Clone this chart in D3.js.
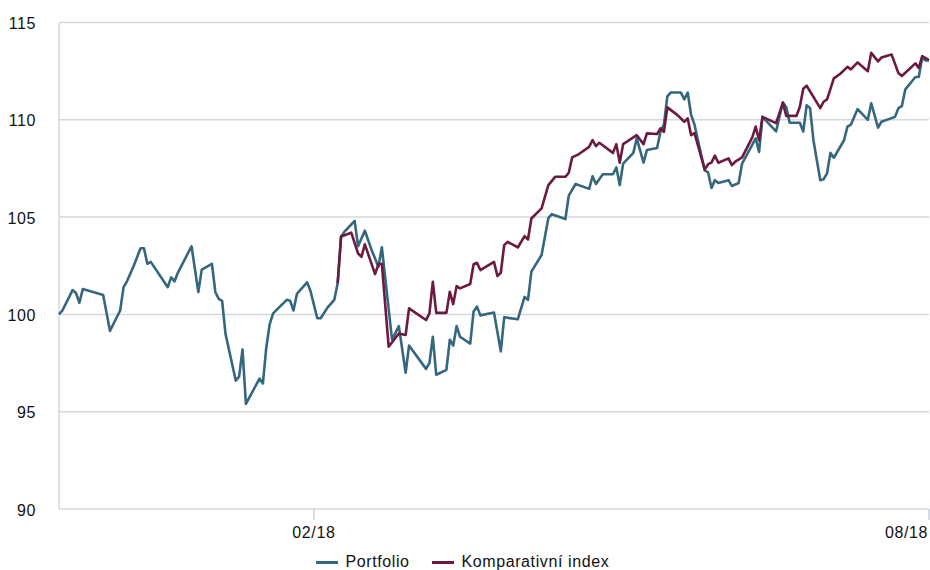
<!DOCTYPE html>
<html>
<head>
<meta charset="utf-8">
<script src="https://cdn.jsdelivr.net/npm/d3@7"></script>
<style>
  html, body { margin: 0; padding: 0; background: #fff; }
  svg { display: block; font-family: "Liberation Sans", Arial, Helvetica, sans-serif; }
</style>
</head>
<body>
<svg id="chart" width="930" height="570"></svg>
<script>
const portfolioDates = [
"2017-11-18","2017-11-19","2017-11-22","2017-11-23","2017-11-24","2017-11-25","2017-12-01","2017-12-03","2017-12-06","2017-12-07",
"2017-12-08","2017-12-10","2017-12-12","2017-12-13","2017-12-14","2017-12-15","2017-12-20","2017-12-21","2017-12-22","2017-12-23",
"2017-12-27","2017-12-29","2017-12-30","2018-01-02","2018-01-03","2018-01-04","2018-01-05","2018-01-06","2018-01-09","2018-01-10",
"2018-01-11","2018-01-12","2018-01-16","2018-01-17","2018-01-18","2018-01-19","2018-01-20","2018-01-24","2018-01-25","2018-01-26",
"2018-01-27","2018-01-30","2018-01-31","2018-02-02","2018-02-03","2018-02-05","2018-02-07","2018-02-08","2018-02-09","2018-02-10",
"2018-02-13","2018-02-14","2018-02-15","2018-02-16","2018-02-18","2018-02-20","2018-02-21","2018-02-24","2018-02-26","2018-02-28",
"2018-03-01","2018-03-06","2018-03-07","2018-03-08","2018-03-09","2018-03-12","2018-03-13","2018-03-14","2018-03-15","2018-03-16",
"2018-03-19","2018-03-20","2018-03-21","2018-03-22","2018-03-26","2018-03-28","2018-03-29","2018-04-02","2018-04-04","2018-04-05",
"2018-04-06","2018-04-09","2018-04-11","2018-04-12","2018-04-16","2018-04-17","2018-04-19","2018-04-23","2018-04-24","2018-04-25",
"2018-04-27","2018-04-30","2018-05-01","2018-05-02","2018-05-03","2018-05-06","2018-05-07","2018-05-09","2018-05-10","2018-05-13",
"2018-05-14","2018-05-15","2018-05-16","2018-05-17","2018-05-20","2018-05-21","2018-05-22","2018-05-23","2018-05-24","2018-05-27",
"2018-05-28","2018-05-29","2018-05-30","2018-05-31","2018-06-03","2018-06-04","2018-06-06","2018-06-07","2018-06-11","2018-06-12",
"2018-06-13","2018-06-17","2018-06-19","2018-06-20","2018-06-21","2018-06-24","2018-06-25","2018-06-26","2018-06-27","2018-06-28",
"2018-06-30","2018-07-01","2018-07-02","2018-07-03","2018-07-04","2018-07-07","2018-07-08","2018-07-09","2018-07-11","2018-07-14",
"2018-07-15","2018-07-17","2018-07-18","2018-07-22","2018-07-23","2018-07-24","2018-07-25","2018-07-28","2018-07-29","2018-07-30",
"2018-07-31","2018-08-01"
];
const portfolioValues = [
100.0,100.2,101.25,101.1,100.6,101.3,101.0,99.15,100.2,101.4,
101.7,102.5,103.4,103.4,102.6,102.7,101.4,101.9,101.7,102.15,
103.5,101.15,102.3,102.6,101.15,100.8,100.7,99.0,96.6,96.8,
98.2,95.4,96.7,96.45,98.3,99.5,100.05,100.75,100.7,100.2,
101.05,101.65,101.2,99.8,99.8,100.35,100.75,101.6,104.0,104.25,
104.8,103.5,103.9,104.3,103.3,102.45,103.45,98.7,99.4,97.0,
98.4,97.2,97.5,98.85,96.9,97.15,98.7,98.4,99.4,98.85,
98.5,100.15,100.4,99.95,100.1,98.1,99.85,99.75,100.9,100.75,
102.2,103.05,104.95,105.15,104.9,106.1,106.7,106.45,107.1,106.7,
107.2,107.2,107.55,106.65,107.75,108.3,109.05,107.8,108.45,108.55,
109.4,109.75,111.2,111.4,111.4,111.05,111.4,110.25,109.75,107.4,
107.3,106.5,106.9,106.75,106.9,106.6,106.75,107.75,109.05,108.35,
110.15,109.4,110.9,110.65,109.85,109.85,109.4,110.75,110.6,108.95,
106.9,106.95,107.25,108.3,108.05,108.95,109.65,109.75,110.55,110.0,
110.85,109.6,109.9,110.15,110.6,110.7,111.55,112.2,112.2,113.2,
113.05,113.05
];
const indexDates = [
"2018-02-08","2018-02-09","2018-02-12","2018-02-14","2018-02-15","2018-02-16","2018-02-19","2018-02-20","2018-02-21","2018-02-23",
"2018-02-26","2018-02-28","2018-03-01","2018-03-06","2018-03-07","2018-03-08","2018-03-09","2018-03-12","2018-03-13","2018-03-14",
"2018-03-15","2018-03-16","2018-03-19","2018-03-20","2018-03-21","2018-03-22","2018-03-26","2018-03-27","2018-03-28","2018-03-29",
"2018-03-30","2018-04-02","2018-04-04","2018-04-05","2018-04-06","2018-04-09","2018-04-11","2018-04-13","2018-04-16","2018-04-17",
"2018-04-18","2018-04-20","2018-04-23","2018-04-24","2018-04-25","2018-04-26","2018-04-30","2018-05-01","2018-05-02","2018-05-03",
"2018-05-07","2018-05-09","2018-05-10","2018-05-13","2018-05-14","2018-05-15","2018-05-16","2018-05-19","2018-05-21","2018-05-22",
"2018-05-23","2018-05-24","2018-05-27","2018-05-28","2018-05-29","2018-05-30","2018-05-31","2018-06-03","2018-06-04","2018-06-05",
"2018-06-07","2018-06-10","2018-06-11","2018-06-12","2018-06-13","2018-06-17","2018-06-19","2018-06-20","2018-06-23","2018-06-24",
"2018-06-25","2018-06-26","2018-06-30","2018-07-01","2018-07-02","2018-07-04","2018-07-06","2018-07-08","2018-07-09","2018-07-11",
"2018-07-14","2018-07-15","2018-07-17","2018-07-18","2018-07-21","2018-07-23","2018-07-24","2018-07-28","2018-07-29","2018-07-30",
"2018-08-01"
];
const indexValues = [
101.6,104.0,104.2,103.13,102.96,103.6,102.07,102.58,102.6,98.34,
99.02,98.94,100.31,99.71,100.05,101.68,100.08,100.08,101.16,100.53,
101.45,101.34,101.56,102.58,102.65,102.28,102.7,101.97,102.14,103.56,
103.73,103.44,104.02,103.85,104.93,105.45,106.64,107.07,107.07,107.28,
108.07,108.24,108.61,108.96,108.65,108.82,108.3,108.75,107.79,108.75,
109.21,108.75,109.3,109.27,109.56,109.38,110.64,110.24,109.9,110.07,
109.21,109.32,107.45,107.72,107.8,108.16,107.79,108.02,107.67,107.85,
108.07,109.1,109.65,108.95,110.15,109.83,110.87,110.2,110.2,110.67,
111.6,111.75,110.6,110.93,111.05,112.13,112.38,112.72,112.59,112.95,
112.5,113.44,113.0,113.2,113.35,112.4,112.25,112.9,112.67,113.27,
113.07
];
const yTicks = [90, 95, 100, 105, 110, 115];
const xTickDates = ["2018-02-01", "2018-08-01"];
const xDomain = ["2017-11-18", "2018-08-01"];
const seriesNames = ["Portfolio", "Komparativní index"];
const seriesColors = ["#35677f", "#6b1a42"];

const parse = d3.timeParse("%Y-%m-%d");
const fmt = d3.timeFormat("%m/%y");
const svg = d3.select("#chart");

const M = { left: 59, right: 929, top: 22.5, bottom: 509 };
const x = d3.scaleTime().domain(xDomain.map(parse)).range([M.left, M.right]);
const y = d3.scaleLinear().domain([90, 115]).range([M.bottom, M.top]);

const gridColor = "#d5d9d9";
const fontSize = 16, letterSp = 0.6;

// horizontal grid
svg.append("g").selectAll("line").data(yTicks).join("line")
  .attr("x1", M.left).attr("x2", M.right)
  .attr("y1", d => y(d)).attr("y2", d => y(d))
  .attr("stroke", gridColor).attr("stroke-width", 1.5);

// left axis line
svg.append("line").attr("x1", M.left).attr("x2", M.left)
  .attr("y1", M.top).attr("y2", M.bottom)
  .attr("stroke", gridColor).attr("stroke-width", 1.5);

// y labels
svg.append("g").selectAll("text").data(yTicks).join("text")
  .attr("x", 36).attr("y", d => y(d)).attr("dy", "0.41em")
  .attr("text-anchor", "end").attr("font-size", fontSize)
  .attr("letter-spacing", letterSp).attr("fill", "#111")
  .text(d => d);

// x ticks
const xt = xTickDates.map(parse);
svg.append("g").selectAll("line").data(xt).join("line")
  .attr("x1", d => x(d)).attr("x2", d => x(d))
  .attr("y1", M.bottom).attr("y2", M.bottom + 11)
  .attr("stroke", "#c9d2e3").attr("stroke-width", 1.5);
svg.append("g").selectAll("text").data(xt).join("text")
  .attr("x", (d, i) => i === xt.length - 1 ? x(d) - 1 : x(d))
  .attr("y", 538.3)
  .attr("text-anchor", (d, i) => i === xt.length - 1 ? "end" : "middle")
  .attr("font-size", fontSize).attr("letter-spacing", letterSp).attr("fill", "#111")
  .text(d => fmt(d));

// lines
const line = d3.line().x(d => x(d[0])).y(d => y(d[1]));
const pData = portfolioDates.map((d, i) => [parse(d), portfolioValues[i]]);
const iData = indexDates.map((d, i) => [parse(d), indexValues[i]]);
[pData, iData].forEach((data, k) => {
  svg.append("path").datum(data)
    .attr("d", line).attr("fill", "none")
    .attr("stroke", seriesColors[k]).attr("stroke-width", 2.6)
    .attr("stroke-linejoin", "round");
});

// legend
const legX = [316, 432];
const lg = svg.append("g").selectAll("g").data(seriesNames).join("g")
  .attr("transform", (d, i) => `translate(${legX[i]},562.5)`);
lg.append("line").attr("x1", 0).attr("x2", 22).attr("y1", 0).attr("y2", 0)
  .attr("stroke", (d, i) => seriesColors[i]).attr("stroke-width", 3);
lg.append("text").attr("x", 29.5).attr("y", 4.2)
  .attr("font-size", fontSize).attr("letter-spacing", letterSp)
  .attr("fill", "#111").text(d => d);
</script>
</body>
</html>
